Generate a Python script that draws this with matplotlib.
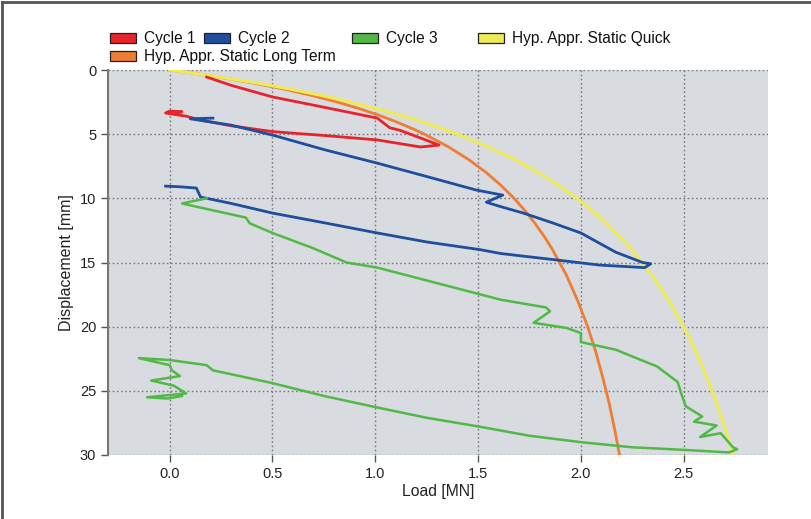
import matplotlib
matplotlib.use("Agg")
import matplotlib.pyplot as plt
from matplotlib.patches import Rectangle
from matplotlib.lines import Line2D

plt.rcParams['font.family'] = ['Liberation Sans', 'DejaVu Sans']

# ---------------- data ----------------
# Hyperbolic approximations: displacement [mm] -> load [MN]
hyp_disp = [0, 0.25, 0.5, 1, 1.5, 2, 2.5, 3, 3.5, 4, 4.5, 5, 6, 7, 8, 9, 10,
            11, 12, 13, 14, 16, 18, 20, 22, 24, 26, 28, 30]
quick_load = [0.0, 0.115, 0.222, 0.418, 0.590, 0.743, 0.881, 1.005, 1.117,
              1.220, 1.313, 1.399, 1.550, 1.681, 1.794, 1.893, 1.980, 2.058,
              2.128, 2.190, 2.247, 2.346, 2.429, 2.500, 2.561, 2.614, 2.661,
              2.703, 2.740]
long_load = [0.0, 0.114, 0.218, 0.402, 0.560, 0.696, 0.815, 0.920, 1.013,
             1.096, 1.171, 1.239, 1.357, 1.456, 1.540, 1.612, 1.675, 1.730,
             1.779, 1.823, 1.862, 1.930, 1.985, 2.033, 2.073, 2.107, 2.138,
             2.164, 2.188]

# Cycle 1
c1_load = [0.18, 0.30, 0.50, 0.75, 1.01, 1.07, 1.12, 1.22, 1.31, 1.22, 1.01,
           0.75, 0.50, 0.30, 0.15, 0.08, 0.04, -0.02, 0.0, 0.06, 0.03]
c1_disp = [0.55, 1.2, 2.1, 2.9, 3.75, 4.5, 4.7, 5.3, 5.85, 6.0, 5.45,
           5.1, 4.8, 4.35, 3.9, 3.6, 3.5, 3.35, 3.2, 3.25, 3.4]

# Cycle 2
c2_load = [0.21, 0.10, 0.30, 0.50, 0.75, 1.01, 1.25, 1.49, 1.62, 1.54, 1.60,
           1.72, 1.86, 2.00, 2.17, 2.30, 2.34, 2.31, 2.09, 1.88, 1.61, 1.51,
           1.25, 1.01, 0.75, 0.50, 0.30, 0.15, 0.13, 0.05, -0.02]
c2_disp = [3.75, 3.8, 4.3, 5.07, 6.2, 7.26, 8.3, 9.35, 9.75, 10.3, 10.6,
           11.15, 11.9, 12.7, 14.2, 15.0, 15.1, 15.4, 15.2, 14.8, 14.3, 14.0,
           13.4, 12.7, 11.9, 11.15, 10.4, 9.9, 9.2, 9.1, 9.05]

# Cycle 3
c3_load = [0.18, 0.06, 0.20, 0.37, 0.39, 0.50, 0.70, 0.86, 1.01, 1.25, 1.49,
           1.61, 1.83, 1.85, 1.77, 1.93, 2.00, 2.00, 2.17, 2.37, 2.47, 2.49,
           2.51, 2.59, 2.55, 2.66, 2.58, 2.68, 2.74, 2.76, 2.72, 2.50, 2.25,
           2.00, 1.75, 1.51, 1.25, 1.01, 0.75, 0.50, 0.21, 0.18, 0.00, -0.15,
           0.00, 0.01, 0.05, -0.09, 0.02, 0.08, -0.11, -0.01, 0.06]
c3_disp = [10.0, 10.4, 10.9, 11.5, 11.95, 12.7, 13.9, 15.0, 15.4, 16.4, 17.4,
           17.9, 18.5, 18.8, 19.7, 20.1, 20.5, 21.2, 21.8, 23.1, 24.3, 25.3,
           26.2, 27.0, 27.4, 27.7, 28.6, 28.3, 29.4, 29.55, 29.8, 29.6, 29.4,
           29.0, 28.5, 27.8, 27.1, 26.3, 25.4, 24.4, 23.4, 23.0, 22.6, 22.45,
           23.0, 23.4, 23.85, 24.2, 24.6, 25.2, 25.5, 25.6, 25.4]

legend_labels = ["Cycle 1", "Cycle 2", "Cycle 3", "Hyp. Appr. Static Quick",
                 "Hyp. Appr. Static Long Term"]
x_ticks = [0.0, 0.5, 1.0, 1.5, 2.0, 2.5]
y_ticks = [0, 5, 10, 15, 20, 25, 30]

# ---------------- styling ----------------
RED = "#e8232b"
BLUE = "#1f4e9e"
GREEN = "#52b847"
YELLOW = "#eeeb55"
ORANGE = "#ef7d33"

W, H = 812, 519
fig = plt.figure(figsize=(W / 100, H / 100), dpi=100)
fig.patch.set_facecolor("white")

def fx(px):
    return px / W

def fy(py):
    return 1 - py / H

ax = fig.add_axes([fx(108), fy(455), fx(768) - fx(108), fy(70) - fy(455)])
ax.set_facecolor("#d8dbdf")

ax.plot(long_load, hyp_disp, color=ORANGE, lw=2.0, zorder=3)
ax.plot(quick_load, hyp_disp, color=YELLOW, lw=2.2, zorder=3.5)
ax.plot(c1_load, c1_disp, color=RED, lw=2.0, zorder=4)
ax.plot(c2_load, c2_disp, color=BLUE, lw=2.0, zorder=4)
ax.plot(c3_load, c3_disp, color=GREEN, lw=1.8, zorder=4)

ax.set_xlim(-0.30, 2.91)
ax.set_ylim(30, 0)
ax.set_xticks(x_ticks)
ax.set_xticklabels([f"{v:.1f}" for v in x_ticks])
ax.set_yticks(y_ticks)
ax.grid(True, color="#7a7a7a", linestyle=(0, (1.2, 1.8)), linewidth=1.0, zorder=1)
ax.set_axisbelow(True)

for s in ["top", "right", "bottom"]:
    ax.spines[s].set_visible(False)
ax.spines["left"].set_color("#777777")
ax.spines["left"].set_linewidth(1.5)

ax.tick_params(axis="both", colors="#555555", labelcolor="#222222",
               labelsize=10.5, length=5, width=1)
ax.set_xlabel("Load [MN]", fontsize=11.3, color="#222222", labelpad=2)
ax.set_ylabel("Displacement [mm]", fontsize=11.5, color="#222222", labelpad=4)

# ---------------- legend (manual) ----------------
colors = [RED, BLUE, GREEN, YELLOW, ORANGE]
positions = [(110, 38), (204, 38), (352, 38), (478, 38), (110, 56)]
for lab, col, (px, py) in zip(legend_labels, colors, positions):
    fig.patches.append(Rectangle((fx(px), fy(py + 5)), fx(26), 10 / H,
                                 transform=fig.transFigure, facecolor=col,
                                 edgecolor="#222222", linewidth=0.9))
    fig.text(fx(px + 34), fy(py), lab, fontsize=11.2, color="#111111",
             va="center", ha="left")

# figure frame (top and left)
fig.lines.append(Line2D([0.003, 1], [1 - 2 / H, 1 - 2 / H], transform=fig.transFigure,
                        color="#555555", lw=2))
fig.lines.append(Line2D([0.003, 0.003], [0, 1 - 2 / H], transform=fig.transFigure,
                        color="#555555", lw=2))

fig.savefig("out.png", dpi=100)
